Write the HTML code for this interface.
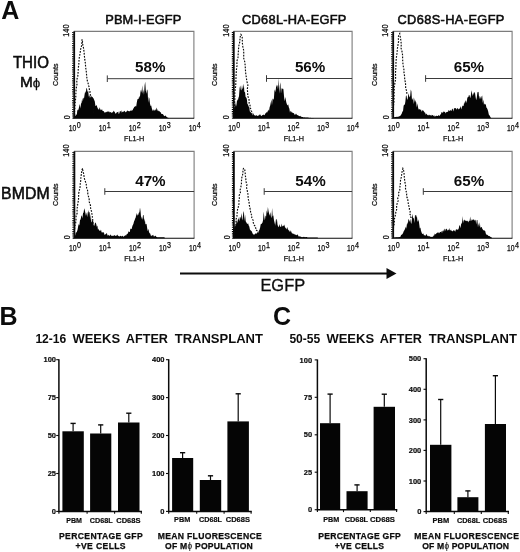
<!DOCTYPE html>
<html><head><meta charset="utf-8"><title>Figure</title>
<style>
html,body{margin:0;padding:0;background:#fff;}
body{width:520px;height:552px;overflow:hidden;}
svg{display:block;}
text{font-family:"Liberation Sans",Arial,Helvetica,sans-serif;fill:#0c0c0c;}
.b{font-weight:bold;}
.hv{stroke:#0c0c0c;stroke-width:0.55px;}
.t{font-size:12.8px;}
.pct{font-size:15.2px;font-weight:bold;}
.ax{font-size:8.4px;stroke:#0c0c0c;stroke-width:0.25px;}
.s7{font-size:7.5px;font-weight:bold;stroke:#0c0c0c;stroke-width:0.2px;}
.s7l{font-size:8.1px;font-weight:bold;stroke:#0c0c0c;stroke-width:0.2px;}
.cap{font-size:8.6px;font-weight:bold;stroke:#0c0c0c;stroke-width:0.25px;}
</style></head><body>
<svg width="520" height="552" viewBox="0 0 520 552">
<rect width="520" height="552" fill="#fff"/>

<text x="1.2" y="19.4" class="b" font-size="25">A</text>
<text x="-0.6" y="325.4" class="b" font-size="25">B</text>
<text x="273" y="325.4" class="b" font-size="25">C</text>
<text x="105.2" y="24.2" class="t hv" textLength="76.2" lengthAdjust="spacing">PBM-I-EGFP</text>
<text x="242.1" y="24.2" class="t hv" textLength="104.2" lengthAdjust="spacing">CD68L-HA-EGFP</text>
<text x="397.5" y="24.2" class="t hv" textLength="106.9" lengthAdjust="spacing">CD68S-HA-EGFP</text>
<text x="12.9" y="67.9" font-size="15.8" class="hv" textLength="36" lengthAdjust="spacingAndGlyphs">THIO</text>
<text x="19.9" y="87.3" font-size="15.4" class="hv">M<tspan font-size="13.4" style="stroke-width:0.25px">ϕ</tspan></text>
<text x="1.0" y="198.6" font-size="15.8" class="hv" textLength="48.6" lengthAdjust="spacing">BMDM</text>
<g>
<polygon points="73.8,118.2 73.8,113.6 74.4,113.8 75.0,115.8 75.6,115.8 76.2,114.4 76.8,114.8 77.4,109.4 78.0,110.6 78.6,109.0 79.2,106.6 79.8,104.1 80.4,108.5 81.0,103.8 81.6,102.8 82.2,97.9 82.8,101.7 83.4,97.5 84.0,98.5 84.6,94.4 85.2,90.9 85.8,93.2 86.4,87.7 87.0,88.7 87.6,92.0 88.2,90.8 88.8,96.8 89.4,94.9 90.0,98.3 90.6,96.4 91.2,95.5 91.8,97.6 92.4,96.7 93.0,97.7 93.6,98.4 94.2,100.1 94.8,101.5 95.4,106.1 96.0,105.8 96.6,105.0 97.2,106.9 97.8,108.6 98.4,109.0 99.0,110.1 99.6,107.3 100.2,109.1 100.8,110.3 101.4,110.0 102.0,109.1 102.6,110.9 103.2,111.1 103.8,111.2 104.4,112.2 105.0,112.9 105.6,111.9 106.2,112.3 106.8,111.8 107.4,111.4 108.0,111.8 108.6,111.6 109.2,111.6 109.8,112.6 110.4,111.9 111.0,112.2 111.6,113.0 112.2,112.1 112.8,112.8 113.4,110.4 114.0,111.7 114.6,111.6 115.2,113.2 115.8,113.8 116.4,113.1 117.0,112.0 117.6,112.2 118.2,111.4 118.8,114.2 119.4,113.0 120.0,110.8 120.6,111.7 121.2,110.3 121.8,112.7 122.4,111.5 123.0,112.2 123.6,111.6 124.2,110.7 124.8,111.3 125.4,112.5 126.0,111.6 126.6,111.7 127.2,110.7 127.8,110.6 128.4,111.3 129.0,111.0 129.6,111.6 130.2,110.5 130.8,110.7 131.4,111.1 132.0,109.5 132.6,110.7 133.2,108.7 133.8,108.1 134.4,106.6 135.0,107.1 135.6,105.7 136.2,106.4 136.8,102.5 137.4,99.5 138.0,98.8 138.6,99.0 139.2,95.8 139.8,98.1 140.4,92.6 141.0,89.5 141.6,92.8 142.2,85.3 142.8,93.8 143.4,89.4 144.0,95.0 144.6,85.4 145.2,81.7 145.8,90.5 146.4,93.7 147.0,89.2 147.6,90.8 148.2,102.7 148.8,97.1 149.4,98.4 150.0,103.7 150.6,105.9 151.2,105.6 151.8,108.2 152.4,109.9 153.0,111.2 153.6,109.4 154.2,109.8 154.8,110.9 155.4,109.0 156.0,110.8 156.6,107.6 157.2,109.3 157.8,111.1 158.4,110.6 159.0,111.6 159.6,111.0 160.2,112.6 160.8,111.9 161.4,113.9 162.0,114.0 162.6,113.9 163.2,114.4 163.8,115.5 164.4,116.3 165.0,115.8 165.6,115.4 166.2,116.6 166.8,117.0 167.4,117.4 168.0,117.7 168.6,117.9 169.2,118.2 169.5,118.2" fill="#050505"/>
<path d="M74.7,115.3 L74.6,111.4 L75.0,106.4 L75.3,101.4 L75.8,96.9 L75.9,92.6 L76.2,88.4 L77.0,84.2 L76.7,80.1 L77.8,76.1 L78.1,72.1 L78.3,68.2 L78.8,64.2 L79.0,60.4 L79.4,56.6 L80.2,53.2 L80.4,50.0 L81.3,47.0 L81.9,44.0 L81.8,41.4 L82.1,39.8 L82.8,40.0 L82.4,42.1 L82.9,45.2 L83.6,48.6 L84.1,52.2 L84.4,55.9 L84.8,59.7 L85.4,63.5 L85.6,67.2 L86.2,70.8 L86.5,73.9 L86.7,76.6 L87.0,78.9 L87.4,81.1 L88.1,83.2 L88.4,85.3 L89.3,87.4 L89.3,89.3 L90.1,91.2 L89.8,93.0 L90.4,94.7 L90.5,96.1 L91.2,97.4 L91.9,98.7 L92.0,99.9 L92.4,101.1 L93.0,102.5 L93.7,104.7 L93.4,108.7 L93.8,113.6" fill="none" stroke="#0a0a0a" stroke-width="1.15" stroke-dasharray="1.7 1.3"/>
<path d="M73.8 31.4H193.9V118.2" fill="none" stroke="#7c7c7c" stroke-width="1.1"/>
<line x1="74.2" y1="31.4" x2="74.2" y2="118.2" stroke="#0a0a0a" stroke-width="1.8"/>
<line x1="72.9" y1="31.9" x2="72.9" y2="118.2" stroke="#000" stroke-width="1.4" stroke-dasharray="1.1 1.1"/>
<line x1="72.6" y1="118.2" x2="194.2" y2="118.2" stroke="#0a0a0a" stroke-width="1.1"/>
<text x="68.7" y="131.4" class="ax" textLength="7.6" lengthAdjust="spacingAndGlyphs">10</text><text x="76.7" y="127.8" class="ax" textLength="4" lengthAdjust="spacingAndGlyphs">0</text>
<text x="98.7" y="131.4" class="ax" textLength="7.6" lengthAdjust="spacingAndGlyphs">10</text><text x="106.7" y="127.8" class="ax" textLength="4" lengthAdjust="spacingAndGlyphs">1</text>
<text x="128.8" y="131.4" class="ax" textLength="7.6" lengthAdjust="spacingAndGlyphs">10</text><text x="136.8" y="127.8" class="ax" textLength="4" lengthAdjust="spacingAndGlyphs">2</text>
<text x="158.8" y="131.4" class="ax" textLength="7.6" lengthAdjust="spacingAndGlyphs">10</text><text x="166.8" y="127.8" class="ax" textLength="4" lengthAdjust="spacingAndGlyphs">3</text>
<text x="188.8" y="131.4" class="ax" textLength="7.6" lengthAdjust="spacingAndGlyphs">10</text><text x="196.8" y="127.8" class="ax" textLength="4" lengthAdjust="spacingAndGlyphs">4</text>
<text x="124.1" y="141.3" class="ax" style="font-size:8px" textLength="20.2" lengthAdjust="spacingAndGlyphs">FL1-H</text>
<text transform="translate(69.8 117.2) rotate(-90)" class="ax" text-anchor="middle" textLength="4" lengthAdjust="spacingAndGlyphs">0</text>
<text transform="translate(69.2 30.6) rotate(-90)" class="ax" text-anchor="middle" textLength="12.3" lengthAdjust="spacingAndGlyphs">140</text>
<text transform="translate(57.7 74.7) rotate(-90)" text-anchor="middle" class="ax" style="font-size:7.8px" textLength="22.4" lengthAdjust="spacingAndGlyphs">Counts</text>
<path d="M107.3 78.7H193.9M107.3 75.4v6.6" stroke="#3a3a3a" stroke-width="1" fill="none"/>
<text x="150.2" y="71.9" class="pct" text-anchor="middle">58%</text>
</g>
<g>
<polygon points="233.6,118.2 233.6,108.5 234.2,105.7 234.8,109.4 235.4,102.1 236.0,106.7 236.6,103.9 237.2,99.0 237.8,101.1 238.4,98.0 239.0,96.3 239.6,88.1 240.2,85.4 240.8,89.4 241.4,90.4 242.0,84.9 242.6,89.3 243.2,87.5 243.8,83.4 244.4,92.3 245.0,91.8 245.6,97.1 246.2,97.4 246.8,98.7 247.4,103.9 248.0,104.6 248.6,106.4 249.2,107.1 249.8,111.2 250.4,112.2 251.0,112.2 251.6,113.5 252.2,112.6 252.8,115.4 253.4,112.9 254.0,115.3 254.6,115.3 255.2,115.3 255.8,116.1 256.4,115.0 257.0,115.8 257.6,116.1 258.2,115.6 258.8,115.6 259.4,115.1 260.0,114.1 260.6,115.3 261.2,115.8 261.8,116.0 262.4,114.9 263.0,115.1 263.6,114.6 264.2,115.2 264.8,114.8 265.4,113.6 266.0,112.8 266.6,112.2 267.2,112.6 267.8,111.0 268.4,109.5 269.0,111.2 269.6,107.3 270.2,105.4 270.8,102.6 271.4,99.4 272.0,105.3 272.6,98.7 273.2,98.8 273.8,99.9 274.4,91.2 275.0,89.2 275.6,92.4 276.2,84.5 276.8,87.1 277.4,84.7 278.0,89.6 278.6,78.1 279.2,93.8 279.8,85.9 280.4,82.3 281.0,93.7 281.6,88.0 282.2,89.3 282.8,88.3 283.4,89.2 284.0,95.9 284.6,101.6 285.2,97.0 285.8,99.8 286.4,102.7 287.0,104.4 287.6,105.5 288.2,104.3 288.8,107.3 289.4,108.7 290.0,112.8 290.6,110.8 291.2,111.5 291.8,112.6 292.4,112.5 293.0,113.1 293.6,113.1 294.2,113.7 294.8,114.9 295.4,114.5 296.0,113.5 296.6,114.4 297.2,114.9 297.8,115.3 298.4,115.5 299.0,116.1 299.6,116.3 300.2,115.8 300.8,116.6 301.4,116.8 302.0,116.9 302.6,117.1 303.2,117.3 303.8,117.4 304.4,117.2 305.0,117.6 305.6,117.6 306.2,117.5 306.8,117.6 307.4,117.6 308.0,117.6 308.6,117.7 309.2,117.7 309.8,117.9 310.4,117.8 311.0,118.0 311.6,118.0 312.2,118.1 312.8,118.1 313.4,118.1 314.0,118.2 314.6,118.2 315.0,118.2" fill="#050505"/>
<path d="M234.2,108.9 L234.4,104.5 L234.9,98.5 L234.8,92.2 L235.7,86.1 L235.9,80.2 L236.1,74.8 L236.4,70.0 L237.0,65.7 L236.8,61.5 L238.0,57.4 L238.2,53.4 L238.5,49.8 L238.7,46.6 L239.3,43.6 L240.1,40.8 L239.8,38.0 L240.6,35.6 L240.9,34.4 L241.4,35.0 L242.2,37.1 L242.3,39.9 L242.4,43.1 L242.8,46.4 L243.6,50.0 L243.8,53.9 L243.6,57.8 L244.7,61.7 L245.2,65.6 L245.4,69.4 L245.7,73.3 L246.3,77.2 L246.8,81.1 L247.9,85.1 L247.3,89.1 L247.7,92.8 L247.7,96.1 L249.0,98.8 L249.1,101.2 L249.2,103.5 L250.1,105.6 L249.8,107.4 L250.8,109.0 L250.9,110.5 L251.8,111.7 L252.0,112.7" fill="none" stroke="#0a0a0a" stroke-width="1.15" stroke-dasharray="1.7 1.3"/>
<path d="M233.4 31.4H352.1V118.2" fill="none" stroke="#7c7c7c" stroke-width="1.1"/>
<line x1="233.8" y1="31.4" x2="233.8" y2="118.2" stroke="#0a0a0a" stroke-width="1.8"/>
<line x1="232.5" y1="31.9" x2="232.5" y2="118.2" stroke="#000" stroke-width="1.4" stroke-dasharray="1.1 1.1"/>
<line x1="232.2" y1="118.2" x2="352.4" y2="118.2" stroke="#0a0a0a" stroke-width="1.1"/>
<text x="228.3" y="131.4" class="ax" textLength="7.6" lengthAdjust="spacingAndGlyphs">10</text><text x="236.3" y="127.8" class="ax" textLength="4" lengthAdjust="spacingAndGlyphs">0</text>
<text x="258.0" y="131.4" class="ax" textLength="7.6" lengthAdjust="spacingAndGlyphs">10</text><text x="266.0" y="127.8" class="ax" textLength="4" lengthAdjust="spacingAndGlyphs">1</text>
<text x="287.6" y="131.4" class="ax" textLength="7.6" lengthAdjust="spacingAndGlyphs">10</text><text x="295.6" y="127.8" class="ax" textLength="4" lengthAdjust="spacingAndGlyphs">2</text>
<text x="317.3" y="131.4" class="ax" textLength="7.6" lengthAdjust="spacingAndGlyphs">10</text><text x="325.3" y="127.8" class="ax" textLength="4" lengthAdjust="spacingAndGlyphs">3</text>
<text x="347.0" y="131.4" class="ax" textLength="7.6" lengthAdjust="spacingAndGlyphs">10</text><text x="355.0" y="127.8" class="ax" textLength="4" lengthAdjust="spacingAndGlyphs">4</text>
<text x="283.7" y="141.3" class="ax" style="font-size:8px" textLength="20.2" lengthAdjust="spacingAndGlyphs">FL1-H</text>
<text transform="translate(229.4 117.2) rotate(-90)" class="ax" text-anchor="middle" textLength="4" lengthAdjust="spacingAndGlyphs">0</text>
<text transform="translate(228.8 30.6) rotate(-90)" class="ax" text-anchor="middle" textLength="12.3" lengthAdjust="spacingAndGlyphs">140</text>
<text transform="translate(217.3 74.7) rotate(-90)" text-anchor="middle" class="ax" style="font-size:7.8px" textLength="22.4" lengthAdjust="spacingAndGlyphs">Counts</text>
<path d="M266.5 78.5H352.1M266.5 75.2v6.6" stroke="#3a3a3a" stroke-width="1" fill="none"/>
<text x="310.1" y="71.9" class="pct" text-anchor="middle">56%</text>
</g>
<g>
<polygon points="392.8,118.2 392.8,116.8 393.4,117.0 394.0,117.0 394.6,117.3 395.2,116.9 395.8,116.9 396.4,116.8 397.0,116.9 397.6,116.7 398.2,116.7 398.8,116.5 399.4,116.2 400.0,115.9 400.6,115.4 401.2,114.6 401.8,113.4 402.4,111.6 403.0,111.2 403.6,106.0 404.2,104.3 404.8,105.2 405.4,101.3 406.0,95.2 406.6,96.1 407.2,99.9 407.8,98.2 408.4,93.3 409.0,95.5 409.6,97.4 410.2,96.1 410.8,89.5 411.4,91.5 412.0,100.1 412.6,99.1 413.2,97.5 413.8,104.3 414.4,98.1 415.0,102.9 415.6,100.1 416.2,102.5 416.8,107.4 417.4,103.3 418.0,107.2 418.6,109.6 419.2,109.3 419.8,109.2 420.4,110.0 421.0,109.2 421.6,111.7 422.2,110.8 422.8,110.1 423.4,110.8 424.0,111.5 424.6,112.4 425.2,112.8 425.8,114.8 426.4,113.4 427.0,114.5 427.6,115.1 428.2,115.5 428.8,114.7 429.4,114.8 430.0,115.5 430.6,115.1 431.2,115.9 431.8,114.7 432.4,115.2 433.0,115.1 433.6,116.3 434.2,115.2 434.8,116.7 435.4,116.2 436.0,115.8 436.6,115.8 437.2,116.0 437.8,115.9 438.4,115.1 439.0,115.8 439.6,116.0 440.2,114.3 440.8,114.8 441.4,112.5 442.0,111.7 442.6,113.0 443.2,112.3 443.8,111.2 444.4,112.0 445.0,111.8 445.6,113.4 446.2,112.3 446.8,112.0 447.4,111.7 448.0,112.0 448.6,109.8 449.2,111.3 449.8,110.5 450.4,109.8 451.0,111.3 451.6,110.6 452.2,108.5 452.8,109.2 453.4,111.4 454.0,108.2 454.6,108.2 455.2,108.3 455.8,108.1 456.4,109.8 457.0,108.3 457.6,108.2 458.2,108.8 458.8,109.6 459.4,108.8 460.0,108.0 460.6,106.1 461.2,109.4 461.8,107.5 462.4,106.1 463.0,105.4 463.6,106.2 464.2,101.6 464.8,104.1 465.4,101.1 466.0,100.3 466.6,103.3 467.2,98.6 467.8,97.1 468.4,96.9 469.0,94.8 469.6,95.6 470.2,98.3 470.8,96.1 471.4,90.3 472.0,93.1 472.6,96.3 473.2,92.3 473.8,95.1 474.4,91.8 475.0,92.9 475.6,96.9 476.2,100.2 476.8,97.6 477.4,92.5 478.0,91.8 478.6,92.2 479.2,99.2 479.8,95.8 480.4,97.2 481.0,99.3 481.6,96.4 482.2,95.6 482.8,102.9 483.4,99.5 484.0,104.9 484.6,103.4 485.2,104.3 485.8,104.6 486.4,107.6 487.0,108.2 487.6,109.6 488.2,111.4 488.8,114.4 489.4,115.2 490.0,116.2 490.6,117.4 491.2,117.9 491.3,118.2" fill="#050505"/>
<path d="M392.7,111.5 L393.3,107.5 L393.9,101.7 L394.1,94.4 L394.3,86.6 L395.6,79.1 L395.5,72.6 L395.9,67.0 L396.0,62.0 L396.4,57.3 L397.1,52.8 L397.4,48.6 L398.0,44.8 L398.6,41.2 L398.3,37.7 L398.7,34.9 L399.7,33.6 L399.8,34.8 L400.4,37.5 L400.9,40.9 L401.3,44.3 L401.0,47.9 L402.0,51.5 L402.6,55.2 L402.6,58.9 L402.8,62.5 L403.2,66.0 L403.9,69.4 L404.0,72.9 L404.6,76.2 L404.7,79.5 L405.5,82.8 L405.6,85.9 L405.7,88.8 L406.8,91.2 L406.8,93.2 L407.3,94.6" fill="none" stroke="#0a0a0a" stroke-width="1.15" stroke-dasharray="1.7 1.3"/>
<path d="M392.8 31.4H512.1V118.2" fill="none" stroke="#7c7c7c" stroke-width="1.1"/>
<line x1="393.2" y1="31.4" x2="393.2" y2="118.2" stroke="#0a0a0a" stroke-width="1.8"/>
<line x1="391.9" y1="31.9" x2="391.9" y2="118.2" stroke="#000" stroke-width="1.4" stroke-dasharray="1.1 1.1"/>
<line x1="391.6" y1="118.2" x2="512.4" y2="118.2" stroke="#0a0a0a" stroke-width="1.1"/>
<text x="387.7" y="131.4" class="ax" textLength="7.6" lengthAdjust="spacingAndGlyphs">10</text><text x="395.7" y="127.8" class="ax" textLength="4" lengthAdjust="spacingAndGlyphs">0</text>
<text x="417.5" y="131.4" class="ax" textLength="7.6" lengthAdjust="spacingAndGlyphs">10</text><text x="425.5" y="127.8" class="ax" textLength="4" lengthAdjust="spacingAndGlyphs">1</text>
<text x="447.4" y="131.4" class="ax" textLength="7.6" lengthAdjust="spacingAndGlyphs">10</text><text x="455.4" y="127.8" class="ax" textLength="4" lengthAdjust="spacingAndGlyphs">2</text>
<text x="477.2" y="131.4" class="ax" textLength="7.6" lengthAdjust="spacingAndGlyphs">10</text><text x="485.2" y="127.8" class="ax" textLength="4" lengthAdjust="spacingAndGlyphs">3</text>
<text x="507.0" y="131.4" class="ax" textLength="7.6" lengthAdjust="spacingAndGlyphs">10</text><text x="515.0" y="127.8" class="ax" textLength="4" lengthAdjust="spacingAndGlyphs">4</text>
<text x="443.1" y="141.3" class="ax" style="font-size:8px" textLength="20.2" lengthAdjust="spacingAndGlyphs">FL1-H</text>
<text transform="translate(388.8 117.2) rotate(-90)" class="ax" text-anchor="middle" textLength="4" lengthAdjust="spacingAndGlyphs">0</text>
<text transform="translate(388.2 30.6) rotate(-90)" class="ax" text-anchor="middle" textLength="12.3" lengthAdjust="spacingAndGlyphs">140</text>
<text transform="translate(376.7 74.7) rotate(-90)" text-anchor="middle" class="ax" style="font-size:7.8px" textLength="22.4" lengthAdjust="spacingAndGlyphs">Counts</text>
<path d="M425.6 78.5H512.1M425.6 75.2v6.6" stroke="#3a3a3a" stroke-width="1" fill="none"/>
<text x="468.9" y="71.9" class="pct" text-anchor="middle">65%</text>
</g>
<g>
<polygon points="74.0,238.2 74.0,237.3 74.6,234.7 75.2,235.5 75.8,232.4 76.4,232.5 77.0,231.4 77.6,229.5 78.2,226.0 78.8,224.1 79.4,225.5 80.0,220.0 80.6,219.4 81.2,216.6 81.8,215.2 82.4,218.6 83.0,213.3 83.6,212.5 84.2,208.2 84.8,210.2 85.4,213.0 86.0,215.9 86.6,213.5 87.2,212.1 87.8,217.4 88.4,210.0 89.0,212.6 89.6,211.9 90.2,220.2 90.8,214.0 91.4,222.5 92.0,221.5 92.6,219.6 93.2,221.3 93.8,226.3 94.4,225.6 95.0,222.9 95.6,222.4 96.2,224.1 96.8,226.8 97.4,225.5 98.0,229.9 98.6,228.5 99.2,231.1 99.8,230.2 100.4,230.9 101.0,229.5 101.6,232.5 102.2,232.0 102.8,232.7 103.4,232.1 104.0,232.9 104.6,234.9 105.2,234.4 105.8,234.0 106.4,233.2 107.0,233.4 107.6,235.8 108.2,234.7 108.8,235.5 109.4,235.8 110.0,235.6 110.6,234.3 111.2,235.9 111.8,235.6 112.4,236.1 113.0,235.5 113.6,235.9 114.2,235.1 114.8,235.4 115.4,235.8 116.0,236.0 116.6,235.5 117.2,234.6 117.8,235.5 118.4,236.1 119.0,236.3 119.6,236.5 120.2,235.7 120.8,236.1 121.4,236.4 122.0,236.1 122.6,235.8 123.2,236.8 123.8,236.5 124.4,236.0 125.0,235.6 125.6,235.2 126.2,235.5 126.8,233.9 127.4,233.9 128.0,233.0 128.6,231.3 129.2,232.1 129.8,231.9 130.4,228.4 131.0,229.1 131.6,229.0 132.2,226.8 132.8,225.1 133.4,223.9 134.0,221.6 134.6,220.2 135.2,218.6 135.8,217.3 136.4,212.7 137.0,216.3 137.6,214.3 138.2,214.9 138.8,212.7 139.4,212.2 140.0,207.4 140.6,211.8 141.2,219.3 141.8,216.2 142.4,220.0 143.0,215.2 143.6,214.9 144.2,221.9 144.8,218.3 145.4,224.5 146.0,223.7 146.6,224.2 147.2,228.2 147.8,231.3 148.4,228.8 149.0,232.0 149.6,233.2 150.2,233.6 150.8,235.5 151.4,236.2 152.0,235.0 152.6,235.5 153.2,234.8 153.8,236.6 154.4,236.2 155.0,236.3 155.6,235.4 156.2,236.7 156.8,237.1 157.4,237.2 158.0,237.2 158.6,237.3 159.2,237.2 159.8,237.3 160.4,237.2 161.0,237.3 161.6,237.3 162.2,237.3 162.8,237.3 163.4,237.3 164.0,237.3 164.6,237.5 165.0,238.2" fill="#050505"/>
<path d="M74.2,232.2 L74.6,229.6 L74.9,226.2 L75.7,222.8 L76.0,219.5 L76.1,216.2 L77.2,212.9 L77.0,209.7 L77.4,206.4 L77.9,203.2 L78.5,199.9 L78.6,196.6 L78.7,193.4 L79.4,190.1 L80.1,186.8 L80.3,183.4 L80.8,180.0 L80.9,176.6 L81.6,173.3 L81.7,170.3 L82.6,168.5 L83.0,168.4 L82.7,169.9 L83.4,172.1 L83.7,174.4 L84.1,176.7 L84.5,178.8 L85.1,180.8 L85.8,182.7 L86.3,184.5 L86.3,186.4 L86.8,188.2 L87.5,190.1 L87.8,192.0 L87.8,193.8 L88.2,195.7 L88.9,197.7 L89.2,199.6 L89.2,201.6 L89.7,203.5 L90.5,205.5 L90.5,207.5 L90.9,209.5 L91.5,211.4 L91.8,213.3 L92.1,215.2 L92.6,218.2 L93.0,223.9 L93.3,231.2" fill="none" stroke="#0a0a0a" stroke-width="1.15" stroke-dasharray="1.7 1.3"/>
<path d="M74.0 151.4H194.1V238.2" fill="none" stroke="#7c7c7c" stroke-width="1.1"/>
<line x1="74.4" y1="151.4" x2="74.4" y2="238.2" stroke="#0a0a0a" stroke-width="1.8"/>
<line x1="73.1" y1="151.9" x2="73.1" y2="238.2" stroke="#000" stroke-width="1.4" stroke-dasharray="1.1 1.1"/>
<line x1="72.8" y1="238.2" x2="194.4" y2="238.2" stroke="#0a0a0a" stroke-width="1.1"/>
<text x="68.9" y="251.4" class="ax" textLength="7.6" lengthAdjust="spacingAndGlyphs">10</text><text x="76.9" y="247.8" class="ax" textLength="4" lengthAdjust="spacingAndGlyphs">0</text>
<text x="98.9" y="251.4" class="ax" textLength="7.6" lengthAdjust="spacingAndGlyphs">10</text><text x="106.9" y="247.8" class="ax" textLength="4" lengthAdjust="spacingAndGlyphs">1</text>
<text x="129.0" y="251.4" class="ax" textLength="7.6" lengthAdjust="spacingAndGlyphs">10</text><text x="137.0" y="247.8" class="ax" textLength="4" lengthAdjust="spacingAndGlyphs">2</text>
<text x="159.0" y="251.4" class="ax" textLength="7.6" lengthAdjust="spacingAndGlyphs">10</text><text x="167.0" y="247.8" class="ax" textLength="4" lengthAdjust="spacingAndGlyphs">3</text>
<text x="189.0" y="251.4" class="ax" textLength="7.6" lengthAdjust="spacingAndGlyphs">10</text><text x="197.0" y="247.8" class="ax" textLength="4" lengthAdjust="spacingAndGlyphs">4</text>
<text x="124.3" y="261.3" class="ax" style="font-size:8px" textLength="20.2" lengthAdjust="spacingAndGlyphs">FL1-H</text>
<text transform="translate(70.0 237.2) rotate(-90)" class="ax" text-anchor="middle" textLength="4" lengthAdjust="spacingAndGlyphs">0</text>
<text transform="translate(69.4 150.6) rotate(-90)" class="ax" text-anchor="middle" textLength="12.3" lengthAdjust="spacingAndGlyphs">140</text>
<text transform="translate(57.9 194.7) rotate(-90)" text-anchor="middle" class="ax" style="font-size:7.8px" textLength="22.4" lengthAdjust="spacingAndGlyphs">Counts</text>
<path d="M104.8 191.5H194.1M104.8 188.2v6.6" stroke="#3a3a3a" stroke-width="1" fill="none"/>
<text x="150.4" y="185.7" class="pct" text-anchor="middle">47%</text>
</g>
<g>
<polygon points="233.7,238.2 233.7,227.3 234.3,228.6 234.9,223.9 235.5,226.4 236.1,224.6 236.7,220.0 237.3,223.1 237.9,219.5 238.5,219.3 239.1,216.8 239.7,221.6 240.3,217.7 240.9,217.1 241.5,212.9 242.1,220.4 242.7,217.9 243.3,213.0 243.9,211.1 244.5,221.2 245.1,214.8 245.7,221.3 246.3,222.2 246.9,223.6 247.5,224.1 248.1,223.2 248.7,225.4 249.3,226.6 249.9,229.5 250.5,230.2 251.1,230.7 251.7,231.2 252.3,232.7 252.9,234.0 253.5,234.4 254.1,234.6 254.7,234.5 255.3,233.3 255.9,233.8 256.5,233.8 257.1,232.4 257.7,232.5 258.3,232.9 258.9,230.7 259.5,229.7 260.1,227.7 260.7,224.3 261.3,224.0 261.9,223.5 262.5,222.6 263.1,220.0 263.7,211.4 264.3,217.3 264.9,220.5 265.5,215.4 266.1,216.5 266.7,210.2 267.3,213.6 267.9,206.9 268.5,210.9 269.1,213.6 269.7,215.8 270.3,211.9 270.9,216.2 271.5,218.2 272.1,208.1 272.7,216.6 273.3,215.3 273.9,219.5 274.5,224.6 275.1,219.3 275.7,225.9 276.3,219.4 276.9,219.0 277.5,224.5 278.1,226.4 278.7,227.3 279.3,224.0 279.9,226.3 280.5,226.7 281.1,226.9 281.7,223.6 282.3,226.4 282.9,226.0 283.5,225.9 284.1,224.5 284.7,226.0 285.3,228.5 285.9,227.2 286.5,229.0 287.1,229.5 287.7,226.7 288.3,230.5 288.9,229.9 289.5,231.2 290.1,232.3 290.7,230.2 291.3,231.7 291.9,233.3 292.5,233.3 293.1,234.2 293.7,233.6 294.3,234.1 294.9,234.8 295.5,234.4 296.1,235.2 296.7,235.0 297.3,234.6 297.9,234.8 298.5,236.4 299.1,236.3 299.7,236.6 300.3,236.6 300.9,236.7 301.5,236.9 302.1,237.2 302.7,236.9 303.3,236.9 303.9,236.8 304.5,237.1 305.1,237.2 305.7,237.0 306.3,237.1 306.9,237.1 307.5,237.5 308.1,237.4 308.7,237.4 309.3,237.4 309.9,237.6 310.5,237.6 311.1,237.4 311.7,237.5 312.3,237.5 312.9,237.5 313.5,237.6 314.1,237.4 314.7,237.4 315.3,237.4 315.9,237.5 316.5,237.5 317.1,237.5 317.7,237.5 318.0,238.2" fill="#050505"/>
<path d="M233.9,231.2 L234.2,230.0 L234.6,228.4 L235.2,226.6 L235.9,224.6 L236.0,222.3 L236.0,219.5 L236.9,216.4 L237.1,213.1 L237.5,209.8 L238.4,206.6 L239.0,203.6 L238.9,200.8 L239.4,198.1 L239.2,195.4 L240.4,192.7 L240.1,190.0 L240.8,187.2 L241.4,184.4 L241.5,181.4 L241.6,178.4 L242.5,175.4 L243.0,172.4 L242.8,169.8 L243.6,168.4 L244.4,168.7 L244.9,170.6 L245.2,173.1 L245.4,175.9 L245.8,178.7 L246.0,181.6 L246.9,184.5 L246.5,187.5 L247.2,190.4 L247.8,193.3 L248.1,196.0 L248.1,198.5 L248.8,200.9 L249.2,203.3 L249.4,205.6 L249.9,208.0 L250.5,210.3 L250.6,212.5 L251.3,214.4 L252.1,216.1 L251.7,217.6 L252.4,219.0 L253.2,220.5 L253.0,221.8 L253.4,223.1 L254.1,224.2 L254.3,225.2 L255.2,226.2 L255.2,227.2 L255.8,228.2 L255.6,229.1 L255.8,230.0 L257.1,230.7 L257.0,231.3 L257.3,231.8 L258.1,232.3 L258.2,232.6" fill="none" stroke="#0a0a0a" stroke-width="1.15" stroke-dasharray="1.7 1.3"/>
<path d="M233.5 151.4H352.1V238.2" fill="none" stroke="#7c7c7c" stroke-width="1.1"/>
<line x1="233.9" y1="151.4" x2="233.9" y2="238.2" stroke="#0a0a0a" stroke-width="1.8"/>
<line x1="232.6" y1="151.9" x2="232.6" y2="238.2" stroke="#000" stroke-width="1.4" stroke-dasharray="1.1 1.1"/>
<line x1="232.3" y1="238.2" x2="352.4" y2="238.2" stroke="#0a0a0a" stroke-width="1.1"/>
<text x="228.4" y="251.4" class="ax" textLength="7.6" lengthAdjust="spacingAndGlyphs">10</text><text x="236.4" y="247.8" class="ax" textLength="4" lengthAdjust="spacingAndGlyphs">0</text>
<text x="258.0" y="251.4" class="ax" textLength="7.6" lengthAdjust="spacingAndGlyphs">10</text><text x="266.0" y="247.8" class="ax" textLength="4" lengthAdjust="spacingAndGlyphs">1</text>
<text x="287.7" y="251.4" class="ax" textLength="7.6" lengthAdjust="spacingAndGlyphs">10</text><text x="295.7" y="247.8" class="ax" textLength="4" lengthAdjust="spacingAndGlyphs">2</text>
<text x="317.4" y="251.4" class="ax" textLength="7.6" lengthAdjust="spacingAndGlyphs">10</text><text x="325.4" y="247.8" class="ax" textLength="4" lengthAdjust="spacingAndGlyphs">3</text>
<text x="347.0" y="251.4" class="ax" textLength="7.6" lengthAdjust="spacingAndGlyphs">10</text><text x="355.0" y="247.8" class="ax" textLength="4" lengthAdjust="spacingAndGlyphs">4</text>
<text x="283.8" y="261.3" class="ax" style="font-size:8px" textLength="20.2" lengthAdjust="spacingAndGlyphs">FL1-H</text>
<text transform="translate(229.5 237.2) rotate(-90)" class="ax" text-anchor="middle" textLength="4" lengthAdjust="spacingAndGlyphs">0</text>
<text transform="translate(228.9 150.6) rotate(-90)" class="ax" text-anchor="middle" textLength="12.3" lengthAdjust="spacingAndGlyphs">140</text>
<text transform="translate(217.4 194.7) rotate(-90)" text-anchor="middle" class="ax" style="font-size:7.8px" textLength="22.4" lengthAdjust="spacingAndGlyphs">Counts</text>
<path d="M264.2 191.5H352.1M264.2 188.2v6.6" stroke="#3a3a3a" stroke-width="1" fill="none"/>
<text x="310.5" y="185.5" class="pct" text-anchor="middle">54%</text>
</g>
<g>
<polygon points="392.8,238.2 392.8,237.3 393.4,237.0 394.0,237.1 394.6,237.4 395.2,237.4 395.8,237.1 396.4,237.0 397.0,237.4 397.6,237.0 398.2,237.2 398.8,236.9 399.4,237.0 400.0,237.1 400.6,236.5 401.2,234.4 401.8,235.1 402.4,234.1 403.0,233.3 403.6,231.5 404.2,230.5 404.8,229.4 405.4,226.4 406.0,229.1 406.6,226.4 407.2,221.9 407.8,224.8 408.4,219.1 409.0,219.7 409.6,222.1 410.2,218.7 410.8,222.4 411.4,224.1 412.0,218.2 412.6,213.7 413.2,218.6 413.8,217.7 414.4,223.1 415.0,215.0 415.6,215.1 416.2,217.8 416.8,214.7 417.4,220.4 418.0,221.9 418.6,219.3 419.2,224.0 419.8,228.5 420.4,227.6 421.0,230.8 421.6,232.6 422.2,234.0 422.8,233.7 423.4,233.5 424.0,235.5 424.6,235.0 425.2,236.0 425.8,235.1 426.4,234.0 427.0,235.1 427.6,236.2 428.2,235.8 428.8,236.4 429.4,236.0 430.0,236.7 430.6,236.7 431.2,236.8 431.8,237.1 432.4,236.8 433.0,236.8 433.6,235.5 434.2,235.6 434.8,233.6 435.4,234.6 436.0,233.8 436.6,233.2 437.2,232.4 437.8,232.7 438.4,232.2 439.0,233.6 439.6,232.6 440.2,232.1 440.8,232.0 441.4,230.9 442.0,233.3 442.6,230.6 443.2,231.6 443.8,229.9 444.4,228.6 445.0,231.4 445.6,229.3 446.2,229.2 446.8,228.5 447.4,230.4 448.0,230.2 448.6,230.1 449.2,228.1 449.8,230.3 450.4,230.4 451.0,229.4 451.6,231.0 452.2,231.0 452.8,231.6 453.4,230.3 454.0,230.2 454.6,230.8 455.2,231.7 455.8,229.8 456.4,229.3 457.0,229.6 457.6,229.8 458.2,229.5 458.8,228.2 459.4,225.0 460.0,226.0 460.6,228.2 461.2,222.7 461.8,224.5 462.4,215.9 463.0,223.3 463.6,220.8 464.2,219.6 464.8,220.6 465.4,220.8 466.0,220.5 466.6,220.9 467.2,221.5 467.8,220.5 468.4,222.5 469.0,220.8 469.6,221.0 470.2,216.4 470.8,221.2 471.4,220.5 472.0,219.1 472.6,220.3 473.2,220.0 473.8,219.1 474.4,220.3 475.0,220.7 475.6,219.6 476.2,224.6 476.8,220.1 477.4,220.1 478.0,227.4 478.6,223.0 479.2,226.8 479.8,222.0 480.4,228.0 481.0,227.0 481.6,227.1 482.2,228.6 482.8,229.5 483.4,230.5 484.0,230.1 484.6,230.7 485.2,231.0 485.8,233.5 486.4,234.6 487.0,234.9 487.6,234.7 488.2,236.0 488.8,235.7 489.4,236.0 490.0,236.4 490.6,237.1 491.2,237.3 491.8,237.5 492.0,238.2" fill="#050505"/>
<path d="M393.5,231.3 L393.2,228.8 L393.9,225.6 L394.4,222.5 L394.3,219.7 L394.8,217.2 L395.5,214.7 L395.8,212.3 L396.6,209.9 L396.6,207.6 L396.6,205.2 L397.4,202.9 L398.2,200.6 L397.7,198.2 L398.7,195.8 L398.4,193.3 L399.7,190.8 L399.9,188.3 L400.0,185.8 L400.4,183.1 L400.5,180.3 L401.2,177.4 L401.7,174.5 L402.1,171.7 L402.7,169.3 L402.9,168.5 L403.4,169.7 L404.0,172.4 L404.2,175.6 L404.5,178.9 L404.9,182.2 L405.6,185.5 L405.5,188.7 L406.2,191.5 L406.7,194.0 L406.4,196.3 L407.7,198.5 L407.9,200.8 L408.2,203.0 L408.5,205.2 L409.4,207.4 L409.4,209.5 L410.2,211.7 L409.6,213.7 L410.7,215.5 L410.6,217.0 L411.6,218.0" fill="none" stroke="#0a0a0a" stroke-width="1.15" stroke-dasharray="1.7 1.3"/>
<path d="M392.8 151.4H512.1V238.2" fill="none" stroke="#7c7c7c" stroke-width="1.1"/>
<line x1="393.2" y1="151.4" x2="393.2" y2="238.2" stroke="#0a0a0a" stroke-width="1.8"/>
<line x1="391.9" y1="151.9" x2="391.9" y2="238.2" stroke="#000" stroke-width="1.4" stroke-dasharray="1.1 1.1"/>
<line x1="391.6" y1="238.2" x2="512.4" y2="238.2" stroke="#0a0a0a" stroke-width="1.1"/>
<text x="387.7" y="251.4" class="ax" textLength="7.6" lengthAdjust="spacingAndGlyphs">10</text><text x="395.7" y="247.8" class="ax" textLength="4" lengthAdjust="spacingAndGlyphs">0</text>
<text x="417.5" y="251.4" class="ax" textLength="7.6" lengthAdjust="spacingAndGlyphs">10</text><text x="425.5" y="247.8" class="ax" textLength="4" lengthAdjust="spacingAndGlyphs">1</text>
<text x="447.4" y="251.4" class="ax" textLength="7.6" lengthAdjust="spacingAndGlyphs">10</text><text x="455.4" y="247.8" class="ax" textLength="4" lengthAdjust="spacingAndGlyphs">2</text>
<text x="477.2" y="251.4" class="ax" textLength="7.6" lengthAdjust="spacingAndGlyphs">10</text><text x="485.2" y="247.8" class="ax" textLength="4" lengthAdjust="spacingAndGlyphs">3</text>
<text x="507.0" y="251.4" class="ax" textLength="7.6" lengthAdjust="spacingAndGlyphs">10</text><text x="515.0" y="247.8" class="ax" textLength="4" lengthAdjust="spacingAndGlyphs">4</text>
<text x="443.1" y="261.3" class="ax" style="font-size:8px" textLength="20.2" lengthAdjust="spacingAndGlyphs">FL1-H</text>
<text transform="translate(388.8 237.2) rotate(-90)" class="ax" text-anchor="middle" textLength="4" lengthAdjust="spacingAndGlyphs">0</text>
<text transform="translate(388.2 150.6) rotate(-90)" class="ax" text-anchor="middle" textLength="12.3" lengthAdjust="spacingAndGlyphs">140</text>
<text transform="translate(376.7 194.7) rotate(-90)" text-anchor="middle" class="ax" style="font-size:7.8px" textLength="22.4" lengthAdjust="spacingAndGlyphs">Counts</text>
<path d="M423.3 191.5H512.1M423.3 188.2v6.6" stroke="#3a3a3a" stroke-width="1" fill="none"/>
<text x="469.0" y="185.5" class="pct" text-anchor="middle">65%</text>
</g>
<line x1="180" y1="273.5" x2="388" y2="273.5" stroke="#0c0c0c" stroke-width="2"/>
<polygon points="386.5,268 396.5,273.5 386.5,279" fill="#0c0c0c"/>
<text x="260.4" y="291" font-size="16.6" class="hv" style="stroke-width:0.3px" textLength="44.8" lengthAdjust="spacingAndGlyphs">EGFP</text>
<text x="35.4" y="342.5" class="b" font-size="12.7" textLength="30.9" lengthAdjust="spacingAndGlyphs">12-16</text>
<text x="72.4" y="342.5" class="b" font-size="12.7" textLength="47.7" lengthAdjust="spacingAndGlyphs">WEEKS</text>
<text x="125.8" y="342.5" class="b" font-size="12.7" textLength="42.2" lengthAdjust="spacingAndGlyphs">AFTER</text>
<text x="174.7" y="342.5" class="b" font-size="12.7" textLength="88.3" lengthAdjust="spacingAndGlyphs">TRANSPLANT</text>
<text x="289.4" y="342.5" class="b" font-size="12.7" textLength="30.9" lengthAdjust="spacingAndGlyphs">50-55</text>
<text x="326.4" y="342.5" class="b" font-size="12.7" textLength="47.7" lengthAdjust="spacingAndGlyphs">WEEKS</text>
<text x="379.8" y="342.5" class="b" font-size="12.7" textLength="42.2" lengthAdjust="spacingAndGlyphs">AFTER</text>
<text x="428.7" y="342.5" class="b" font-size="12.7" textLength="88.3" lengthAdjust="spacingAndGlyphs">TRANSPLANT</text>
<g>
<path d="M58.9 359.2V511.4H142.0" fill="none" stroke="#0a0a0a" stroke-width="1.5"/>
<line x1="56.2" y1="511.4" x2="58.9" y2="511.4" stroke="#0a0a0a" stroke-width="1.1"/>
<text x="56.0" y="514.0" class="s7" text-anchor="end">0</text>
<line x1="56.2" y1="473.5" x2="58.9" y2="473.5" stroke="#0a0a0a" stroke-width="1.1"/>
<text x="56.0" y="476.1" class="s7" text-anchor="end">25</text>
<line x1="56.2" y1="435.5" x2="58.9" y2="435.5" stroke="#0a0a0a" stroke-width="1.1"/>
<text x="56.0" y="438.1" class="s7" text-anchor="end">50</text>
<line x1="56.2" y1="397.6" x2="58.9" y2="397.6" stroke="#0a0a0a" stroke-width="1.1"/>
<text x="56.0" y="400.2" class="s7" text-anchor="end">75</text>
<line x1="56.2" y1="359.7" x2="58.9" y2="359.7" stroke="#0a0a0a" stroke-width="1.1"/>
<text x="56.0" y="362.3" class="s7" text-anchor="end">100</text>
<rect x="62.4" y="431.3" width="21.4" height="80.1" fill="#050505"/>
<path d="M73.1 431.3V423.2" stroke="#0a0a0a" stroke-width="1.2" fill="none"/>
<path d="M70.5 423.4h5.2" stroke="#0a0a0a" stroke-width="1.4" fill="none"/>
<rect x="90.1" y="433.5" width="21.2" height="77.9" fill="#050505"/>
<path d="M100.7 433.5V424.7" stroke="#0a0a0a" stroke-width="1.2" fill="none"/>
<path d="M98.1 424.9h5.2" stroke="#0a0a0a" stroke-width="1.4" fill="none"/>
<rect x="118.0" y="422.5" width="21.5" height="88.9" fill="#050505"/>
<path d="M128.8 422.5V413.0" stroke="#0a0a0a" stroke-width="1.2" fill="none"/>
<path d="M126.2 413.2h5.2" stroke="#0a0a0a" stroke-width="1.4" fill="none"/>
<line x1="58.9" y1="511.4" x2="58.9" y2="513.8" stroke="#0a0a0a" stroke-width="1.1"/>
<line x1="87.1" y1="511.4" x2="87.1" y2="513.8" stroke="#0a0a0a" stroke-width="1.1"/>
<line x1="114.6" y1="511.4" x2="114.6" y2="513.8" stroke="#0a0a0a" stroke-width="1.1"/>
<line x1="141.3" y1="511.4" x2="141.3" y2="513.8" stroke="#0a0a0a" stroke-width="1.1"/>
<text x="66.3" y="522.5" class="s7l" textLength="15.7" lengthAdjust="spacingAndGlyphs">PBM</text>
<text x="89.7" y="522.5" class="s7l" textLength="22.9" lengthAdjust="spacingAndGlyphs">CD68L</text>
<text x="116.2" y="522.5" class="s7l" textLength="24.3" lengthAdjust="spacingAndGlyphs">CD68S</text>
<text x="59.0" y="538.8" class="cap" textLength="83.7" lengthAdjust="spacing">PERCENTAGE GFP</text>
<text x="75.6" y="549.3" class="cap" textLength="50.0" lengthAdjust="spacing">+VE CELLS</text>
</g>
<g>
<path d="M168.7 359.2V511.4H251.8" fill="none" stroke="#0a0a0a" stroke-width="1.5"/>
<line x1="166.0" y1="511.4" x2="168.7" y2="511.4" stroke="#0a0a0a" stroke-width="1.1"/>
<text x="164.5" y="514.0" class="s7" text-anchor="end">0</text>
<line x1="166.0" y1="473.5" x2="168.7" y2="473.5" stroke="#0a0a0a" stroke-width="1.1"/>
<text x="164.5" y="476.1" class="s7" text-anchor="end">100</text>
<line x1="166.0" y1="435.5" x2="168.7" y2="435.5" stroke="#0a0a0a" stroke-width="1.1"/>
<text x="164.5" y="438.1" class="s7" text-anchor="end">200</text>
<line x1="166.0" y1="397.6" x2="168.7" y2="397.6" stroke="#0a0a0a" stroke-width="1.1"/>
<text x="164.5" y="400.2" class="s7" text-anchor="end">300</text>
<line x1="166.0" y1="359.7" x2="168.7" y2="359.7" stroke="#0a0a0a" stroke-width="1.1"/>
<text x="164.5" y="362.3" class="s7" text-anchor="end">400</text>
<rect x="172.1" y="458.0" width="21.1" height="53.4" fill="#050505"/>
<path d="M182.6 458.0V452.5" stroke="#0a0a0a" stroke-width="1.2" fill="none"/>
<path d="M180.0 452.7h5.2" stroke="#0a0a0a" stroke-width="1.4" fill="none"/>
<rect x="199.8" y="480.0" width="21.4" height="31.4" fill="#050505"/>
<path d="M210.5 480.0V475.6" stroke="#0a0a0a" stroke-width="1.2" fill="none"/>
<path d="M207.9 475.8h5.2" stroke="#0a0a0a" stroke-width="1.4" fill="none"/>
<rect x="227.4" y="421.4" width="21.5" height="90.0" fill="#050505"/>
<path d="M238.2 421.4V393.6" stroke="#0a0a0a" stroke-width="1.2" fill="none"/>
<path d="M235.6 393.8h5.2" stroke="#0a0a0a" stroke-width="1.4" fill="none"/>
<line x1="168.7" y1="511.4" x2="168.7" y2="513.8" stroke="#0a0a0a" stroke-width="1.1"/>
<line x1="196.7" y1="511.4" x2="196.7" y2="513.8" stroke="#0a0a0a" stroke-width="1.1"/>
<line x1="224.1" y1="511.4" x2="224.1" y2="513.8" stroke="#0a0a0a" stroke-width="1.1"/>
<line x1="251.1" y1="511.4" x2="251.1" y2="513.8" stroke="#0a0a0a" stroke-width="1.1"/>
<text x="174.1" y="522.4" class="s7l" textLength="16.2" lengthAdjust="spacingAndGlyphs">PBM</text>
<text x="199.1" y="522.4" class="s7l" textLength="22.8" lengthAdjust="spacingAndGlyphs">CD68L</text>
<text x="225.7" y="522.4" class="s7l" textLength="24.3" lengthAdjust="spacingAndGlyphs">CD68S</text>
<text x="157.7" y="538.7" class="cap" textLength="104.0" lengthAdjust="spacing">MEAN FLUORESCENCE</text>
<text x="165.0" y="549.1" class="cap" textLength="87.8" lengthAdjust="spacing">OF M<tspan font-weight="normal" font-size="8.2" stroke-width="0.1">ϕ</tspan> POPULATION</text>
</g>
<g>
<path d="M317.4 359.4V509.7H397.3" fill="none" stroke="#0a0a0a" stroke-width="1.5"/>
<line x1="314.7" y1="509.7" x2="317.4" y2="509.7" stroke="#0a0a0a" stroke-width="1.1"/>
<text x="312.1" y="512.3" class="s7" text-anchor="end">0</text>
<line x1="314.7" y1="472.2" x2="317.4" y2="472.2" stroke="#0a0a0a" stroke-width="1.1"/>
<text x="312.1" y="474.9" class="s7" text-anchor="end">25</text>
<line x1="314.7" y1="434.8" x2="317.4" y2="434.8" stroke="#0a0a0a" stroke-width="1.1"/>
<text x="312.1" y="437.4" class="s7" text-anchor="end">50</text>
<line x1="314.7" y1="397.3" x2="317.4" y2="397.3" stroke="#0a0a0a" stroke-width="1.1"/>
<text x="312.1" y="399.9" class="s7" text-anchor="end">75</text>
<line x1="314.7" y1="359.9" x2="317.4" y2="359.9" stroke="#0a0a0a" stroke-width="1.1"/>
<text x="312.1" y="362.5" class="s7" text-anchor="end">100</text>
<rect x="320.0" y="423.2" width="20.2" height="86.5" fill="#050505"/>
<path d="M330.1 423.2V393.9" stroke="#0a0a0a" stroke-width="1.2" fill="none"/>
<path d="M327.5 394.1h5.2" stroke="#0a0a0a" stroke-width="1.4" fill="none"/>
<rect x="346.5" y="491.2" width="21.1" height="18.5" fill="#050505"/>
<path d="M357.1 491.2V484.7" stroke="#0a0a0a" stroke-width="1.2" fill="none"/>
<path d="M354.4 484.9h5.2" stroke="#0a0a0a" stroke-width="1.4" fill="none"/>
<rect x="373.6" y="406.8" width="21.4" height="102.9" fill="#050505"/>
<path d="M384.3 406.8V394.0" stroke="#0a0a0a" stroke-width="1.2" fill="none"/>
<path d="M381.7 394.2h5.2" stroke="#0a0a0a" stroke-width="1.4" fill="none"/>
<line x1="317.4" y1="509.7" x2="317.4" y2="512.1" stroke="#0a0a0a" stroke-width="1.1"/>
<line x1="343.5" y1="509.7" x2="343.5" y2="512.1" stroke="#0a0a0a" stroke-width="1.1"/>
<line x1="370.3" y1="509.7" x2="370.3" y2="512.1" stroke="#0a0a0a" stroke-width="1.1"/>
<line x1="396.6" y1="509.7" x2="396.6" y2="512.1" stroke="#0a0a0a" stroke-width="1.1"/>
<text x="323.2" y="522.4" class="s7l" textLength="16.0" lengthAdjust="spacingAndGlyphs">PBM</text>
<text x="344.7" y="522.4" class="s7l" textLength="23.4" lengthAdjust="spacingAndGlyphs">CD68L</text>
<text x="370.0" y="522.4" class="s7l" textLength="25.0" lengthAdjust="spacingAndGlyphs">CD68S</text>
<text x="318.2" y="538.9" class="cap" textLength="82.6" lengthAdjust="spacing">PERCENTAGE GFP</text>
<text x="334.7" y="549.2" class="cap" textLength="49.3" lengthAdjust="spacing">+VE CELLS</text>
</g>
<g>
<path d="M426.2 358.2V511.6H509.0" fill="none" stroke="#0a0a0a" stroke-width="1.5"/>
<line x1="423.5" y1="511.6" x2="426.2" y2="511.6" stroke="#0a0a0a" stroke-width="1.1"/>
<text x="421.3" y="514.2" class="s7" text-anchor="end">0</text>
<line x1="423.5" y1="481.0" x2="426.2" y2="481.0" stroke="#0a0a0a" stroke-width="1.1"/>
<text x="421.3" y="483.6" class="s7" text-anchor="end">100</text>
<line x1="423.5" y1="450.4" x2="426.2" y2="450.4" stroke="#0a0a0a" stroke-width="1.1"/>
<text x="421.3" y="453.0" class="s7" text-anchor="end">200</text>
<line x1="423.5" y1="419.9" x2="426.2" y2="419.9" stroke="#0a0a0a" stroke-width="1.1"/>
<text x="421.3" y="422.5" class="s7" text-anchor="end">300</text>
<line x1="423.5" y1="389.3" x2="426.2" y2="389.3" stroke="#0a0a0a" stroke-width="1.1"/>
<text x="421.3" y="391.9" class="s7" text-anchor="end">400</text>
<line x1="423.5" y1="358.7" x2="426.2" y2="358.7" stroke="#0a0a0a" stroke-width="1.1"/>
<text x="421.3" y="361.3" class="s7" text-anchor="end">500</text>
<rect x="430.0" y="444.8" width="21.4" height="66.8" fill="#050505"/>
<path d="M440.7 444.8V399.3" stroke="#0a0a0a" stroke-width="1.2" fill="none"/>
<path d="M438.1 399.5h5.2" stroke="#0a0a0a" stroke-width="1.4" fill="none"/>
<rect x="457.4" y="497.2" width="21.0" height="14.4" fill="#050505"/>
<path d="M467.9 497.2V490.7" stroke="#0a0a0a" stroke-width="1.2" fill="none"/>
<path d="M465.3 490.9h5.2" stroke="#0a0a0a" stroke-width="1.4" fill="none"/>
<rect x="484.9" y="424.0" width="21.1" height="87.6" fill="#050505"/>
<path d="M495.4 424.0V375.5" stroke="#0a0a0a" stroke-width="1.2" fill="none"/>
<path d="M492.8 375.7h5.2" stroke="#0a0a0a" stroke-width="1.4" fill="none"/>
<line x1="426.2" y1="511.6" x2="426.2" y2="514.0" stroke="#0a0a0a" stroke-width="1.1"/>
<line x1="454.3" y1="511.6" x2="454.3" y2="514.0" stroke="#0a0a0a" stroke-width="1.1"/>
<line x1="481.3" y1="511.6" x2="481.3" y2="514.0" stroke="#0a0a0a" stroke-width="1.1"/>
<line x1="508.3" y1="511.6" x2="508.3" y2="514.0" stroke="#0a0a0a" stroke-width="1.1"/>
<text x="432.6" y="523.1" class="s7l" textLength="16.6" lengthAdjust="spacingAndGlyphs">PBM</text>
<text x="457.0" y="523.1" class="s7l" textLength="23.2" lengthAdjust="spacingAndGlyphs">CD68L</text>
<text x="482.8" y="523.1" class="s7l" textLength="24.4" lengthAdjust="spacingAndGlyphs">CD68S</text>
<text x="414.3" y="538.7" class="cap" textLength="104.6" lengthAdjust="spacing">MEAN FLUORESCENCE</text>
<text x="422.2" y="549.2" class="cap" textLength="86.8" lengthAdjust="spacing">OF M<tspan font-weight="normal" font-size="8.2" stroke-width="0.1">ϕ</tspan> POPULATION</text>
</g>
</svg></body></html>
